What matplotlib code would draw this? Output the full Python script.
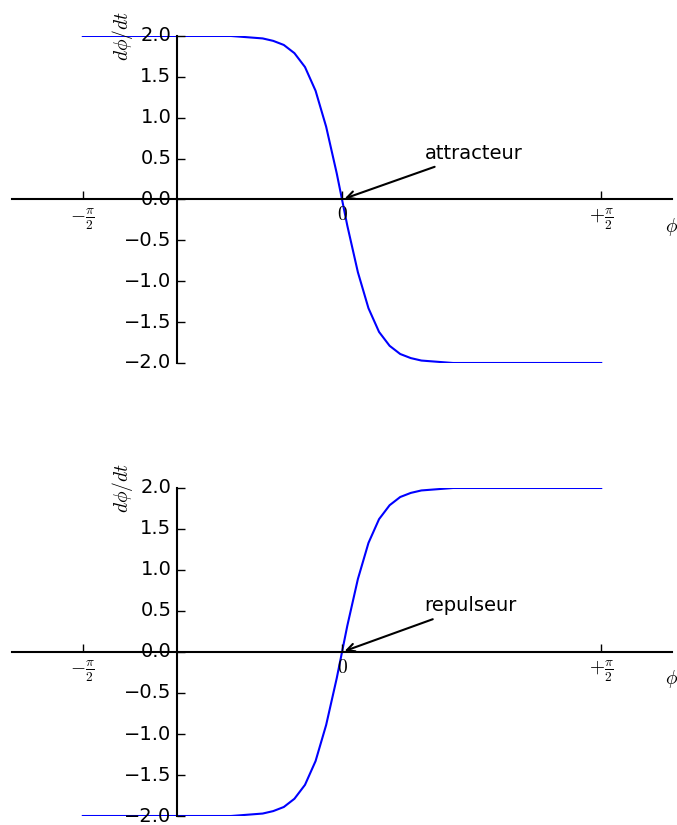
import numpy as np
import matplotlib
matplotlib.use("Agg")
import matplotlib.pyplot as plt

plt.style.use('classic')
plt.rcParams['font.size'] = 14
plt.rcParams['axes.labelsize'] = 14
plt.rcParams['xtick.labelsize'] = 14
plt.rcParams['ytick.labelsize'] = 14

# sample grid (50 points from -pi/2 to pi/2)
phi = np.linspace(-np.pi / 2, np.pi / 2, 50)

# d(phi)/dt (stable point at 0)
dphi_attr = [2.00, 2.00, 2.00, 2.00, 2.00, 2.00, 2.00, 2.00, 2.00, 2.00,
             2.00, 2.00, 2.00, 2.00, 2.00,
             1.99, 1.98, 1.97, 1.94, 1.89, 1.79, 1.62, 1.33, 0.89, 0.32,
             -0.32, -0.89, -1.33, -1.62, -1.79, -1.89, -1.94, -1.97, -1.98, -1.99,
             -2.00, -2.00, -2.00, -2.00, -2.00, -2.00, -2.00, -2.00, -2.00, -2.00,
             -2.00, -2.00, -2.00, -2.00, -2.00]

# bottom panel (unstable point at 0)
dphi_rep = [-v for v in dphi_attr]

xticks = [-np.pi / 2, 0, np.pi / 2]
xticklabels = [r'$-\frac{\pi}{2}$', r'$0$', r'$+\frac{\pi}{2}$']
yticks = [-2.0, -1.5, -1.0, -0.5, 0.0, 0.5, 1.0, 1.5, 2.0]

fig = plt.figure(figsize=(6.77, 8.25), dpi=100, facecolor='white')
ax1 = fig.add_axes([0.0177, 0.560, 0.975, 0.3964])
ax2 = fig.add_axes([0.0177, 0.0109, 0.975, 0.3976])

for ax, y, name in [(ax1, dphi_attr, 'attracteur'), (ax2, dphi_rep, 'repulseur')]:
    ax.plot(phi, y, 'b-', lw=1.5)
    ax.set_xlim(-2, 2)
    ax.set_ylim(-2, 2)
    ax.spines['right'].set_visible(False)
    ax.spines['top'].set_visible(False)
    ax.spines['left'].set_position(('axes', 0.25))
    ax.spines['bottom'].set_position(('data', 0))
    ax.spines['left'].set_linewidth(1.5)
    ax.spines['bottom'].set_linewidth(1.5)
    ax.xaxis.set_ticks_position('bottom')
    ax.yaxis.set_ticks_position('left')
    ax.set_xticks(xticks)
    ax.set_xticklabels(xticklabels)
    ax.set_yticks(yticks)
    ax.tick_params(direction='in', length=6, width=1)
    ax.set_facecolor('none')
    ax.set_ylabel(r'$d\phi/dt$')
    ax.yaxis.set_label_coords(0.186, 1.0)
    ax.set_xlabel(r'$\phi$')
    ax.xaxis.set_label_coords(0.9985, 0.45)
    ax.annotate(name, xy=(0, 0), xytext=(0.5, 0.5),
                arrowprops=dict(arrowstyle='->', color='black', lw=1.5))

fig.savefig('out.png', dpi=100, facecolor='white')
